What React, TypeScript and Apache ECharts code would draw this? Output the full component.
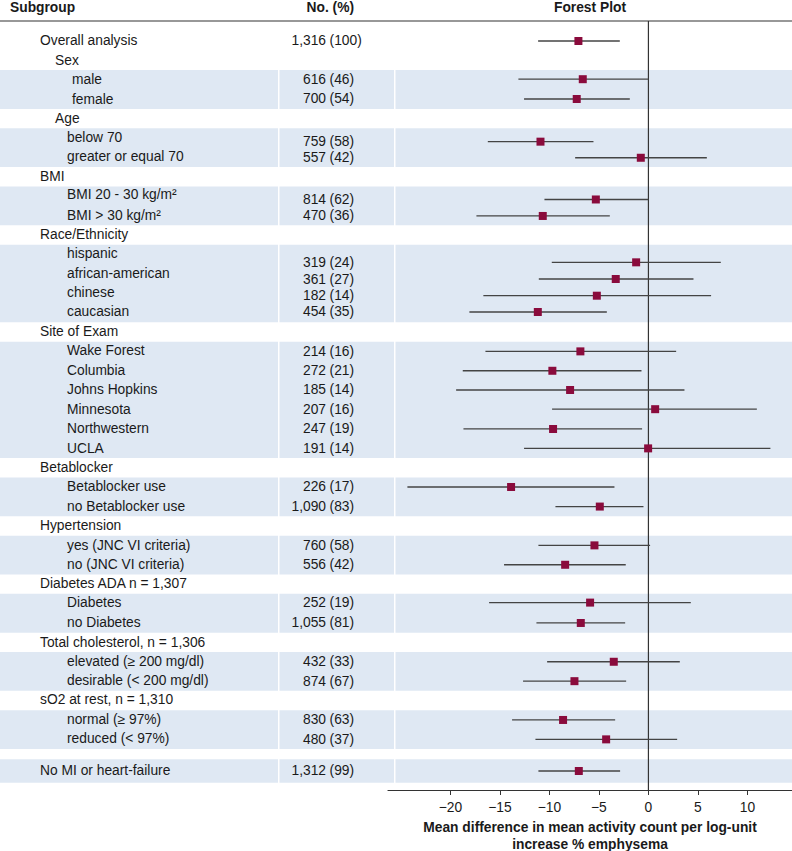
import React, { useEffect, useRef } from "react";
import * as echarts from "echarts";

// ---- data ----
const labels = [
  "Overall analysis", "Sex", "male", "female", "Age", "below 70", "greater or equal 70",
  "BMI", "BMI 20 - 30 kg/m²", "BMI > 30 kg/m²", "Race/Ethnicity", "hispanic", "african-american",
  "chinese", "caucasian", "Site of Exam", "Wake Forest", "Columbia", "Johns Hopkins", "Minnesota",
  "Northwestern", "UCLA", "Betablocker", "Betablocker use", "no Betablocker use", "Hypertension",
  "yes (JNC VI criteria)", "no (JNC VI criteria)", "Diabetes ADA n = 1,307", "Diabetes", "no Diabetes",
  "Total cholesterol, n = 1,306", "elevated (≥ 200 mg/dl)", "desirable (< 200 mg/dl)",
  "sO2 at rest, n = 1,310", "normal (≥ 97%)", "reduced (< 97%)", "No MI or heart-failure",
];
const labelRows = [
  0, 1, 2, 3, 4, 4.95, 5.97, 6.97, 7.92, 9.0, 9.97, 10.97, 11.97, 12.97, 13.97, 14.98,
  15.97, 16.97, 17.97, 18.98, 19.98, 20.99, 22.0, 22.99, 23.99, 25.0, 25.99, 26.99, 27.96,
  28.97, 30.0, 30.99, 31.99, 32.98, 33.97, 34.98, 35.97, 37.63,
];
const labelLevels = [
  0, 1, 3, 3, 1, 2, 2, 0, 2, 2, 0, 2, 2, 2, 2, 0, 2, 2, 2, 2, 2, 2, 0, 2, 2, 0, 2, 2, 0,
  2, 2, 0, 2, 2, 0, 2, 2, 0,
];

const counts = [
  "1,316", "616", "700", "759", "557", "814", "470", "319", "361", "182", "454", "214", "272",
  "185", "207", "247", "191", "226", "1,090", "760", "556", "252", "1,055", "432", "874", "830",
  "480", "1,312",
];
const percents = [
  100, 46, 54, 58, 42, 62, 36, 24, 27, 14, 35, 16, 21, 14, 16, 19, 14, 17, 83, 58, 42, 19, 81,
  33, 67, 63, 37, 99,
];
const estRows = [
  0, 1.97, 2.99, 5.19, 6.02, 8.17, 9.02, 11.41, 12.27, 13.13, 13.97, 16.0, 17.0, 17.99,
  18.98, 20.0, 21.0, 22.99, 24.0, 26.0, 27.0, 28.95, 30.0, 32.0, 33.0, 35.0, 36.0, 37.63,
];
const estimates = [
  -7.07, -6.63, -7.24, -10.9, -0.77, -5.31, -10.67, -1.24, -3.3, -5.21, -11.17, -6.87, -9.7,
  -7.91, 0.68, -9.63, -0.03, -13.87, -4.91, -5.45, -8.41, -5.89, -6.83, -3.5, -7.47, -8.62,
  -4.27, -7.03,
];
const lower = [
  -11.14, -13.13, -12.56, -16.22, -7.4, -10.5, -17.37, -9.76, -11.07, -16.67, -18.08, -16.46,
  -18.75, -19.42, -9.73, -18.68, -12.56, -24.34, -9.39, -11.11, -14.58, -16.09, -11.31,
  -10.23, -12.66, -13.77, -11.41, -11.11,
];
const upper = [
  -2.89, 0.0, -1.88, -5.55, 5.9, 0.0, -3.9, 7.31, 4.55, 6.33, -4.2, 2.8, -0.7, 3.64, 10.95,
  -0.64, 12.32, -3.43, -0.5, 0.17, -2.29, 4.28, -2.35, 3.17, -2.25, -3.36, 2.9, -2.86,
];
const bandStart = [1.5, 4.5, 7.5, 10.5, 15.5, 22.5, 25.5, 28.5, 31.5, 34.5, 37.03];
const bandEnd = [3.5, 6.5, 9.5, 14.5, 21.5, 24.5, 27.5, 30.5, 33.5, 36.5, 38.23];
const xTicks = [-20, -15, -10, -5, 0, 5, 10];

const FONT = "'Liberation Sans', Arial, Helvetica, sans-serif";
const FS = 13.8;
const TEXT = "#1a1a1a";
const BAND = "#dfe8f3";
const indentPx = [40, 55, 67, 72];

export default function App() {
  const ref = useRef<HTMLDivElement>(null);
  useEffect(() => {
    if (!ref.current) return;
    const chart = echarts.init(ref.current, undefined, { renderer: "svg" });
    const W = 792;

    const option: any = {
      animation: false,
      backgroundColor: "#ffffff",
      grid: { left: 388, right: 0, top: 21, bottom: 61, containLabel: false, outerBoundsMode: "none" },
      xAxis: {
        type: "value",
        min: -26.3,
        max: 14.5,
        position: "bottom",
        splitLine: { show: false },
        axisLine: { show: true, onZero: false, lineStyle: { color: "#333", width: 1.2 } },
        axisTick: { show: true, length: 5, customValues: xTicks, lineStyle: { color: "#333" } },
        axisLabel: {
          customValues: xTicks,
          fontFamily: FONT,
          fontSize: FS,
          color: TEXT,
          margin: 10,
          formatter: (v: number) => (v < 0 ? "\u2212" + Math.abs(v) : String(v)),
        },
        name: "Mean difference in mean activity count per log-unit\nincrease % emphysema",
        nameLocation: "middle",
        nameGap: 28,
        nameTextStyle: {
          fontFamily: FONT,
          fontSize: FS,
          fontWeight: "bold",
          color: TEXT,
          lineHeight: 17,
        },
      },
      yAxis: {
        type: "value",
        inverse: true,
        min: -1.03,
        max: 38.61,
        show: false,
      },
      graphic: [
        { type: "text", x: 10, y: 7, style: { text: "Subgroup", font: `bold ${FS}px ${FONT}`, fill: TEXT, verticalAlign: "middle" } },
        { type: "text", x: 354, y: 7, style: { text: "No. (%)", font: `bold ${FS}px ${FONT}`, fill: TEXT, align: "right", verticalAlign: "middle" } },
        { type: "text", x: 590, y: 7, style: { text: "Forest Plot", font: `bold ${FS}px ${FONT}`, fill: TEXT, align: "center", verticalAlign: "middle" } },
        { type: "line", shape: { x1: 0, y1: 21, x2: W, y2: 21 }, style: { stroke: "#333", lineWidth: 1.2 }, z: 10 },
      ],
      series: [
        {
          type: "custom",
          name: "bands",
          z: 0,
          silent: true,
          data: bandStart.map((s, i) => [s, bandEnd[i]]),
          encode: { y: [0, 1] },
          renderItem: (params: any, api: any) => {
            const y0 = api.coord([0, api.value(0)])[1];
            const y1 = api.coord([0, api.value(1)])[1];
            const h = y1 - y0;
            return {
              type: "group",
              children: [
                { type: "rect", shape: { x: 0, y: y0, width: 278, height: h }, style: { fill: BAND } },
                { type: "rect", shape: { x: 279.5, y: y0, width: 114.5, height: h }, style: { fill: BAND } },
                { type: "rect", shape: { x: 395.5, y: y0, width: W - 395.5, height: h }, style: { fill: BAND } },
              ],
            };
          },
        },
        {
          type: "custom",
          name: "labels",
          z: 3,
          silent: true,
          data: labels.map((l, i) => [0, labelRows[i], labelLevels[i]]),
          encode: { y: 1 },
          renderItem: (params: any, api: any) => {
            const i = params.dataIndex;
            const y = api.coord([0, api.value(1)])[1];
            return {
              type: "text",
              x: indentPx[api.value(2)],
              y,
              style: { text: labels[i], font: `${FS}px ${FONT}`, fill: TEXT, verticalAlign: "middle" },
            };
          },
        },
        {
          type: "custom",
          name: "counts",
          z: 3,
          silent: true,
          data: counts.map((c, i) => [0, estRows[i], percents[i]]),
          encode: { y: 1 },
          renderItem: (params: any, api: any) => {
            const i = params.dataIndex;
            const y = api.coord([0, api.value(1)])[1];
            return {
              type: "group",
              children: [
                {
                  type: "text",
                  x: 326,
                  y,
                  style: { text: counts[i], font: `${FS}px ${FONT}`, fill: TEXT, align: "right", verticalAlign: "middle" },
                },
                {
                  type: "text",
                  x: 329.6,
                  y,
                  style: { text: `(${percents[i]})`, font: `${FS}px ${FONT}`, fill: TEXT, align: "left", verticalAlign: "middle" },
                },
              ],
            };
          },
        },
        {
          type: "line",
          name: "zero",
          z: 2,
          silent: true,
          symbol: "none",
          data: [[0, -1.03], [0, 38.61]],
          lineStyle: { color: "#333", width: 1.2 },
        },
        {
          type: "custom",
          name: "ci",
          z: 4,
          silent: true,
          data: estRows.map((r, i) => [lower[i], upper[i], r]),
          encode: { x: [0, 1], y: 2 },
          renderItem: (params: any, api: any) => {
            const p0 = api.coord([api.value(0), api.value(2)]);
            const p1 = api.coord([api.value(1), api.value(2)]);
            return {
              type: "line",
              shape: { x1: p0[0], y1: p0[1], x2: p1[0], y2: p1[1] },
              style: { stroke: "#444", lineWidth: 1.3 },
            };
          },
        },
        {
          type: "scatter",
          name: "estimate",
          z: 5,
          silent: true,
          symbol: "rect",
          symbolSize: 8,
          itemStyle: { color: "#8a0b3c", opacity: 1 },
          data: estRows.map((r, i) => [estimates[i], r]),
        },
      ],
    };
    chart.setOption(option);
    return () => chart.dispose();
  }, []);

  return (
    <div
      ref={ref}
      style={{ position: "absolute", left: 0, top: 0, width: 792, height: 851, background: "#fff" }}
    />
  );
}
